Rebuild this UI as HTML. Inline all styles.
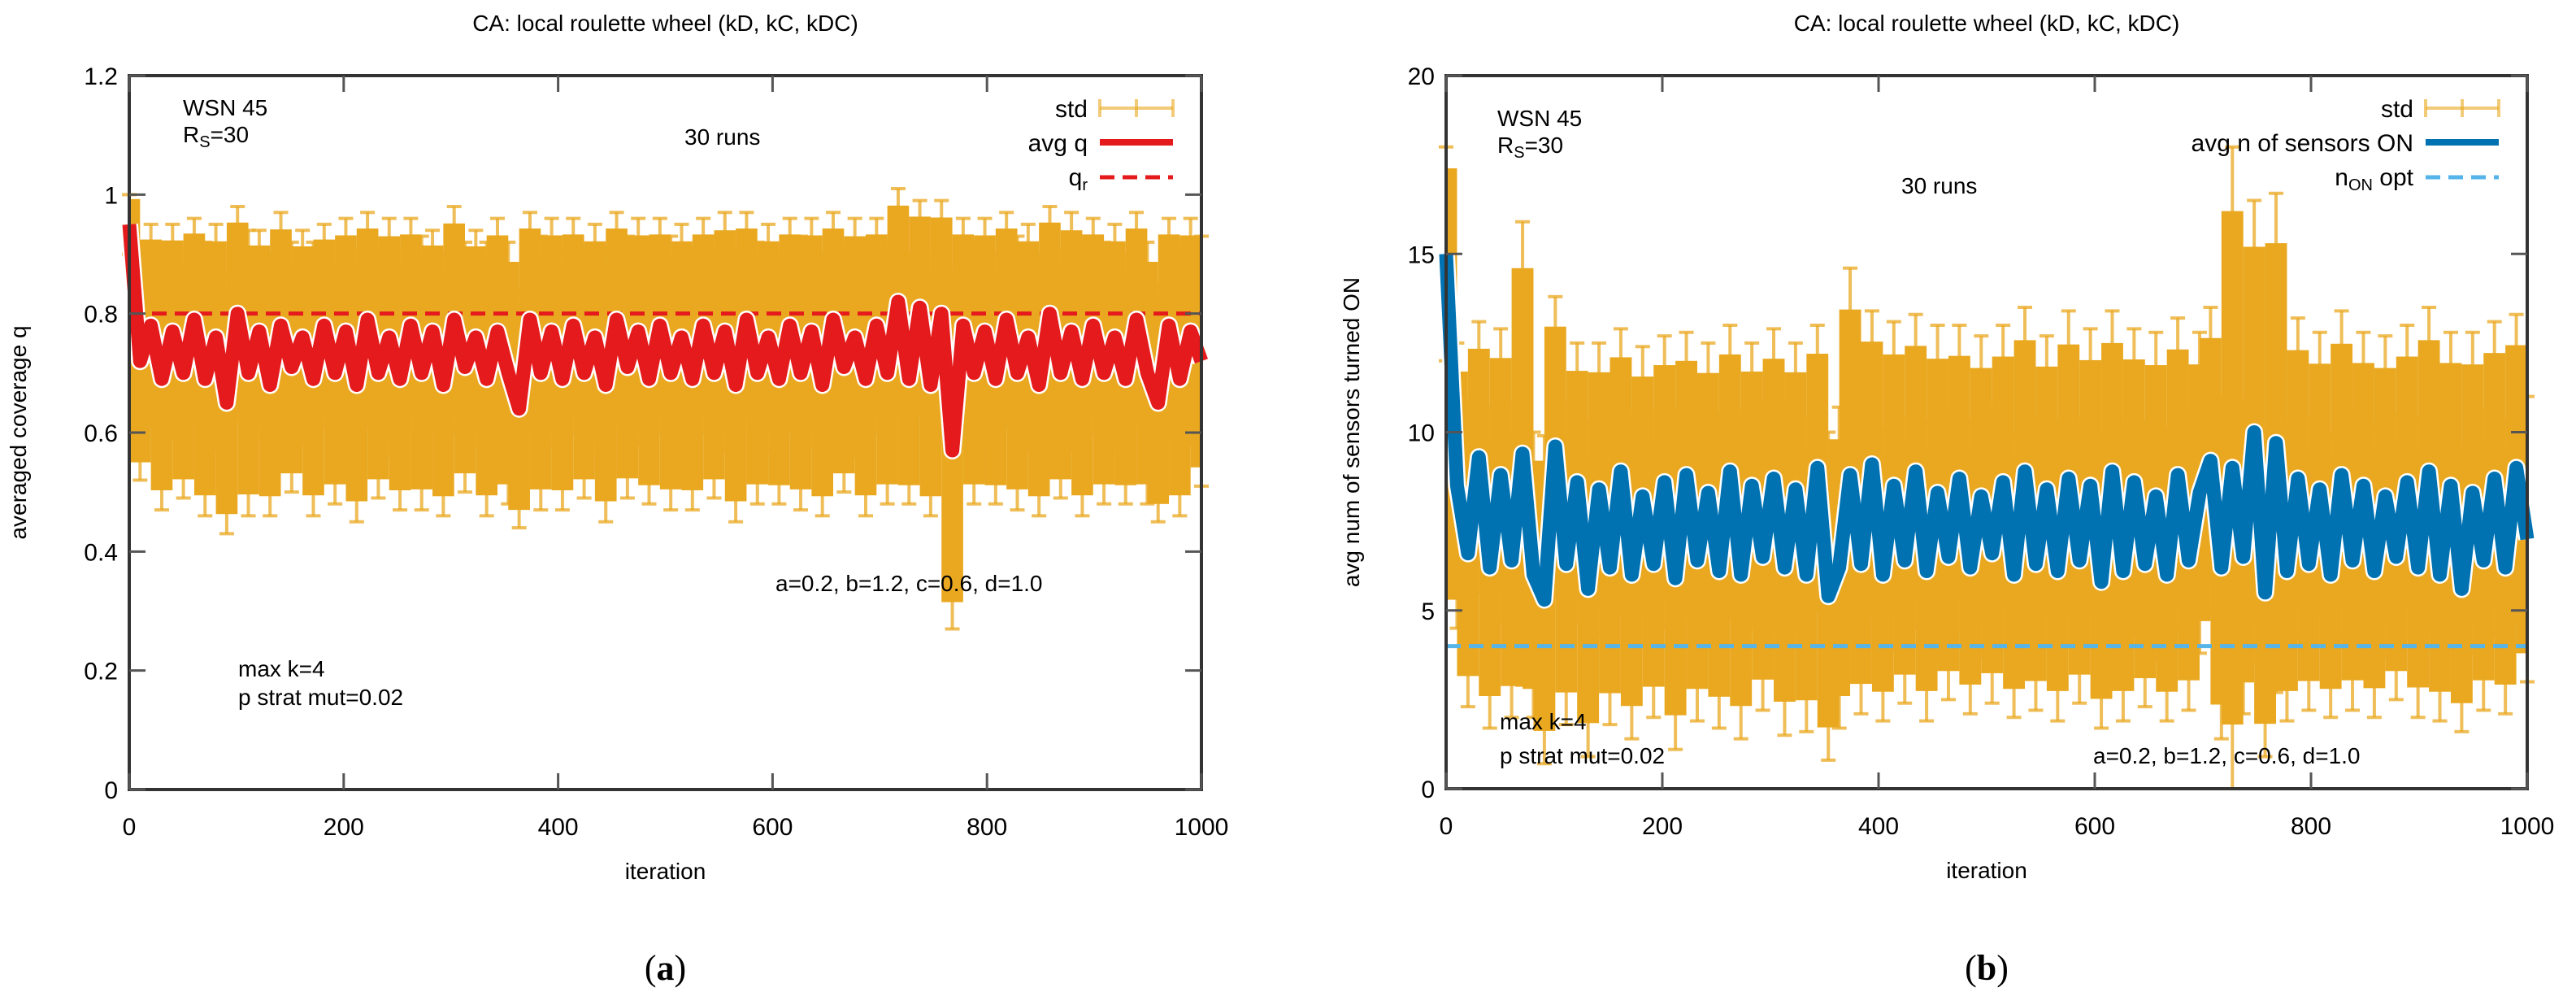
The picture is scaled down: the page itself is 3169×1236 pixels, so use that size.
<!DOCTYPE html>
<html><head><meta charset="utf-8"><style>
html,body{margin:0;padding:0;background:#fff;}
svg{display:block;font-family:"Liberation Sans",sans-serif;}
</style></head><body>
<svg id="fig" width="3169" height="1236" viewBox="0 0 3169 1236"></svg>
<script>
// ---- data: panel (a) ----
const avgQ = [0.95,0.72,0.78,0.69,0.77,0.70,0.79,0.69,0.76,0.65,0.80,0.70,0.77,0.68,0.78,0.71,0.76,0.69,0.78,0.70,
0.77,0.68,0.79,0.70,0.76,0.69,0.78,0.70,0.77,0.68,0.79,0.71,0.76,0.69,0.77,0.70,0.64,0.79,0.70,0.77,
0.69,0.78,0.70,0.76,0.68,0.79,0.71,0.77,0.69,0.78,0.70,0.76,0.69,0.78,0.70,0.77,0.68,0.79,0.70,0.76,
0.69,0.78,0.70,0.77,0.68,0.79,0.71,0.76,0.69,0.78,0.70,0.82,0.69,0.81,0.68,0.80,0.57,0.78,0.70,0.77,
0.69,0.79,0.70,0.76,0.68,0.80,0.70,0.77,0.69,0.78,0.70,0.76,0.69,0.79,0.70,0.65,0.78,0.69,0.77,0.72];
const stdQ = [0.05,0.20,0.17,0.22,0.18,0.21,0.17,0.23,0.19,0.22,0.18,0.24,0.17,0.22,0.19,0.21,0.18,0.23,0.17,0.22,
0.19,0.23,0.18,0.21,0.20,0.22,0.18,0.23,0.17,0.22,0.19,0.21,0.18,0.23,0.19,0.22,0.20,0.18,0.23,0.19,
0.22,0.18,0.21,0.19,0.23,0.18,0.22,0.19,0.21,0.18,0.23,0.19,0.22,0.18,0.21,0.20,0.23,0.18,0.22,0.19,
0.21,0.18,0.23,0.19,0.22,0.18,0.21,0.20,0.23,0.18,0.22,0.19,0.21,0.18,0.22,0.19,0.30,0.18,0.22,0.19,
0.21,0.18,0.23,0.19,0.22,0.18,0.21,0.20,0.23,0.18,0.22,0.19,0.21,0.18,0.22,0.20,0.18,0.23,0.19,0.21];
const refQ = 0.8;
const yTicksA = [0,0.2,0.4,0.6,0.8,1,1.2];
const yLabelsA = ["0","0.2","0.4","0.6","0.8","1","1.2"];
// ---- data: panel (b) ----
const avgN = [15.0,8.5,6.6,9.3,6.2,8.8,6.4,9.4,6.0,5.3,9.6,6.3,8.6,5.6,8.4,6.2,8.9,6.0,8.2,6.3,
8.6,5.9,8.8,6.4,8.3,6.1,8.9,6.0,8.5,6.5,8.7,6.2,8.4,6.0,9.0,5.4,6.2,8.8,6.3,9.1,
6.0,8.5,6.4,8.9,6.1,8.3,6.5,8.7,6.2,8.2,6.6,8.6,6.0,8.9,6.3,8.4,6.1,8.7,6.4,8.5,
5.8,8.9,6.1,8.6,6.3,8.2,6.0,8.8,6.4,8.3,9.2,6.2,9.0,6.5,10.0,5.5,9.7,6.1,8.7,6.3,
8.4,6.0,8.8,6.4,8.5,6.1,8.2,6.5,8.6,6.2,8.9,6.0,8.5,5.6,8.3,6.4,8.7,6.2,9.0,7.0];
const stdN = [3.0,4.0,4.3,3.8,4.5,4.1,4.4,6.5,4.0,4.6,4.2,4.5,3.9,4.7,4.1,4.4,4.0,4.6,4.2,4.3,
4.1,4.8,4.0,4.5,4.2,4.4,4.1,4.6,4.0,4.3,4.2,4.7,4.1,4.4,4.0,4.6,4.5,5.8,4.2,4.3,
4.1,4.6,4.0,4.4,4.2,4.7,4.0,4.3,4.1,4.5,4.2,4.4,4.0,4.6,4.1,4.3,4.2,4.7,4.0,4.4,
4.1,4.5,4.2,4.3,4.0,4.6,4.1,4.4,4.2,4.5,4.3,4.8,9.0,4.4,6.5,4.6,7.0,4.2,4.5,4.1,
4.4,4.0,4.6,4.2,4.3,4.1,4.5,4.0,4.4,4.2,4.6,4.1,4.3,4.0,4.5,4.2,4.4,4.1,4.3,4.0];
const refN = 4;
const yTicksB = [0,5,10,15,20];
const yLabelsB = ["0","5","10","15","20"];
const xTicks = [0,200,400,600,800,1000];
const xLabels = ["0","200","400","600","800","1000"];

const NS="http://www.w3.org/2000/svg";
const svg=document.getElementById('fig');
function mk(tag,attrs,parent){const e=document.createElementNS(NS,tag);for(const k in attrs)e.setAttribute(k,attrs[k]);(parent||svg).appendChild(e);return e;}
function txt(s,x,y,size,anchor,parent,extra){const t=mk('text',Object.assign({x:x,y:y,'font-size':size,'text-anchor':anchor||'start',fill:'#000'},extra||{}),parent);t.textContent=s;return t;}

function panel(P){
  const g=mk('g',{});
  
  
  const X=v=>P.x0+(v/1000)*(P.x1-P.x0);
  const Y=v=>P.y1-(v-P.ymin)/(P.ymax-P.ymin)*(P.y1-P.y0);
  const n=P.avg.length;const step=(P.x1-P.x0)/(n-1);
  const eb=mk('g',{},g);
  
  
  // solid core band
  for(let i=0;i<n;i++){
    const it=i*1000/(n-1);
    const lo=Math.max(P.ymin,P.avg[i]-P.std[i]*P.core),hi=Math.min(P.ymax,P.avg[i]+P.std[i]*P.core);
    const cx=X(it);
    const x0=Math.max(P.x0,cx-step),x1=Math.min(P.x1,cx+step);
    const r=mk('rect',{x:x0,y:Y(hi),width:x1-x0,height:Math.max(0,Y(lo)-Y(hi)),fill:'#e9a820'},eb);
    
    
  }
  // whiskers
  for(let i=0;i<n;i++){
    const it=i*1000/(n-1);
    const lo=Math.max(P.ymin,P.avg[i]-P.std[i]),hi=Math.min(P.ymax,P.avg[i]+P.std[i]);
    const cx=X(it);
    mk('line',{x1:cx,x2:cx,y1:Y(hi),y2:Y(lo),stroke:'#e9a820','stroke-width':4,'stroke-opacity':0.75},eb);
    mk('line',{x1:cx-9,x2:cx+9,y1:Y(hi),y2:Y(hi),stroke:'#e9a820','stroke-width':4,'stroke-opacity':0.75},eb);
    mk('line',{x1:cx-9,x2:cx+9,y1:Y(lo),y2:Y(lo),stroke:'#e9a820','stroke-width':4,'stroke-opacity':0.75},eb);
  }
  const rl=mk('line',{x1:P.x0,x2:P.x1,y1:Y(P.ref),y2:Y(P.ref),stroke:P.refColor,'stroke-width':5,'stroke-dasharray':'18 10'},g);
  
  
  let d='';for(let i=0;i<n;i++){d+=(i?'L':'M')+X(i*1000/(n-1)).toFixed(1)+','+Y(P.avg[i]).toFixed(1);}
  mk('path',{d:d,fill:'none',stroke:'#fff','stroke-width':22,'stroke-linejoin':'round'},g);
  const al=mk('path',{d:d,fill:'none',stroke:P.avgColor,'stroke-width':17,'stroke-linejoin':'round'},g);
  
  
  const fr=mk('rect',{x:P.x0,y:P.y0,width:P.x1-P.x0,height:P.y1-P.y0,fill:'none',stroke:'#333','stroke-width':4},g);
  
  
  xTicks.forEach((t,i)=>{const x=X(t);
    mk('line',{x1:x,x2:x,y1:P.y1,y2:P.y1-20,stroke:'#555','stroke-width':3},g);
    mk('line',{x1:x,x2:x,y1:P.y0,y2:P.y0+20,stroke:'#555','stroke-width':3},g);
    const l=txt(xLabels[i],x,P.y1+56,30,'middle',g);
    
    
  });
  P.yt.forEach((t,i)=>{const y=Y(t);
    mk('line',{x1:P.x0,x2:P.x0+20,y1:y,y2:y,stroke:'#555','stroke-width':3},g);
    mk('line',{x1:P.x1,x2:P.x1-20,y1:y,y2:y,stroke:'#555','stroke-width':3},g);
    const l=txt(P.yl[i],P.x0-14,y+11,30,'end',g);
    
    
  });
  const tt=txt('CA: local roulette wheel (kD, kC, kDC)',(P.x0+P.x1)/2,38,28,'middle',g);
  
  
  const xt=txt('iteration',(P.x0+P.x1)/2,P.y1+110,28,'middle',g);
  
  
  const yt=txt(P.ytitle,0,0,28,'middle',g,{transform:'translate('+P.ytx+','+((P.y0+P.y1)/2)+') rotate(-90)'});
  
  
  const cap=txt('',(P.x0+P.x1)/2,1205,44,'middle',g,{'font-family':'Liberation Serif,serif'});
  cap.innerHTML='(<tspan font-weight="bold">'+P.cap+'</tspan>)';
  
  
  const lg=mk('g',{},g);
  
  
  const lx=P.x1-140,sx0=P.x1-125,sx1=P.x1-35;
  mk('rect',{x:lx-(P.legW||0),y:110,width:(P.legW||0),height:120,fill:'#fff','fill-opacity':0},lg);
  txt('std',lx,144,30,'end',lg);
  mk('line',{x1:sx0,x2:sx1,y1:133,y2:133,stroke:'#e9a820','stroke-width':4,'stroke-opacity':0.6},lg);
  [sx0,(sx0+sx1)/2,sx1].forEach(x=>mk('line',{x1:x,x2:x,y1:122,y2:144,stroke:'#e9a820','stroke-width':4,'stroke-opacity':0.6},lg));
  txt(P.avgLabel,lx,186,30,'end',lg);
  mk('line',{x1:sx0,x2:sx1,y1:175,y2:175,stroke:P.avgColor,'stroke-width':8},lg);
  const rt=txt('',lx,228,30,'end',lg);rt.innerHTML=P.refLabel;
  mk('line',{x1:sx0,x2:sx1,y1:218,y2:218,stroke:P.refColor,'stroke-width':5,'stroke-dasharray':'18 10'},lg);
  P.notes.forEach(nt=>{const t=txt('',nt[1],nt[2],28,'start',g);t.innerHTML=nt[0];
    
    });
}

panel({name:'panel-a-coverage',x0:159,x1:1478,y0:93,y1:971,ymin:0,ymax:1.2,avg:avgQ,std:stdQ,ref:refQ,core:0.85,
  yt:yTicksA,yl:yLabelsA,avgColor:'#e41a1c',refColor:'#e41a1c',ytitle:'averaged coverage q',ytx:32,cap:'a',
  avgLabel:'avg q',refLabel:'q<tspan font-size="20" dy="6">r</tspan>',
  notes:[['WSN 45',225,142],['R<tspan font-size="20" dy="6">S</tspan><tspan dy="-6">=30</tspan>',225,175],['30 runs',842,178],
    ['a=0.2, b=1.2, c=0.6, d=1.0',954,727],['max k=4',293,832],['p strat mut=0.02',293,867]]});
panel({name:'panel-b-sensors',x0:1779,x1:3109,y0:93,y1:970,ymin:0,ymax:20,avg:avgN,std:stdN,ref:refN,core:0.8,
  yt:yTicksB,yl:yLabelsB,avgColor:'#0072b2',refColor:'#56b4e9',ytitle:'avg num of sensors turned ON',ytx:1672,cap:'b',
  avgLabel:'avg n of sensors ON',refLabel:'n<tspan font-size="20" dy="6">ON</tspan><tspan dy="-6"> opt</tspan>',
  notes:[['WSN 45',1842,155],['R<tspan font-size="20" dy="6">S</tspan><tspan dy="-6">=30</tspan>',1842,188],['30 runs',2339,238],
    ['max k=4',1845,897],['p strat mut=0.02',1845,939],['a=0.2, b=1.2, c=0.6, d=1.0',2575,939]]});
</script>
</body></html>
